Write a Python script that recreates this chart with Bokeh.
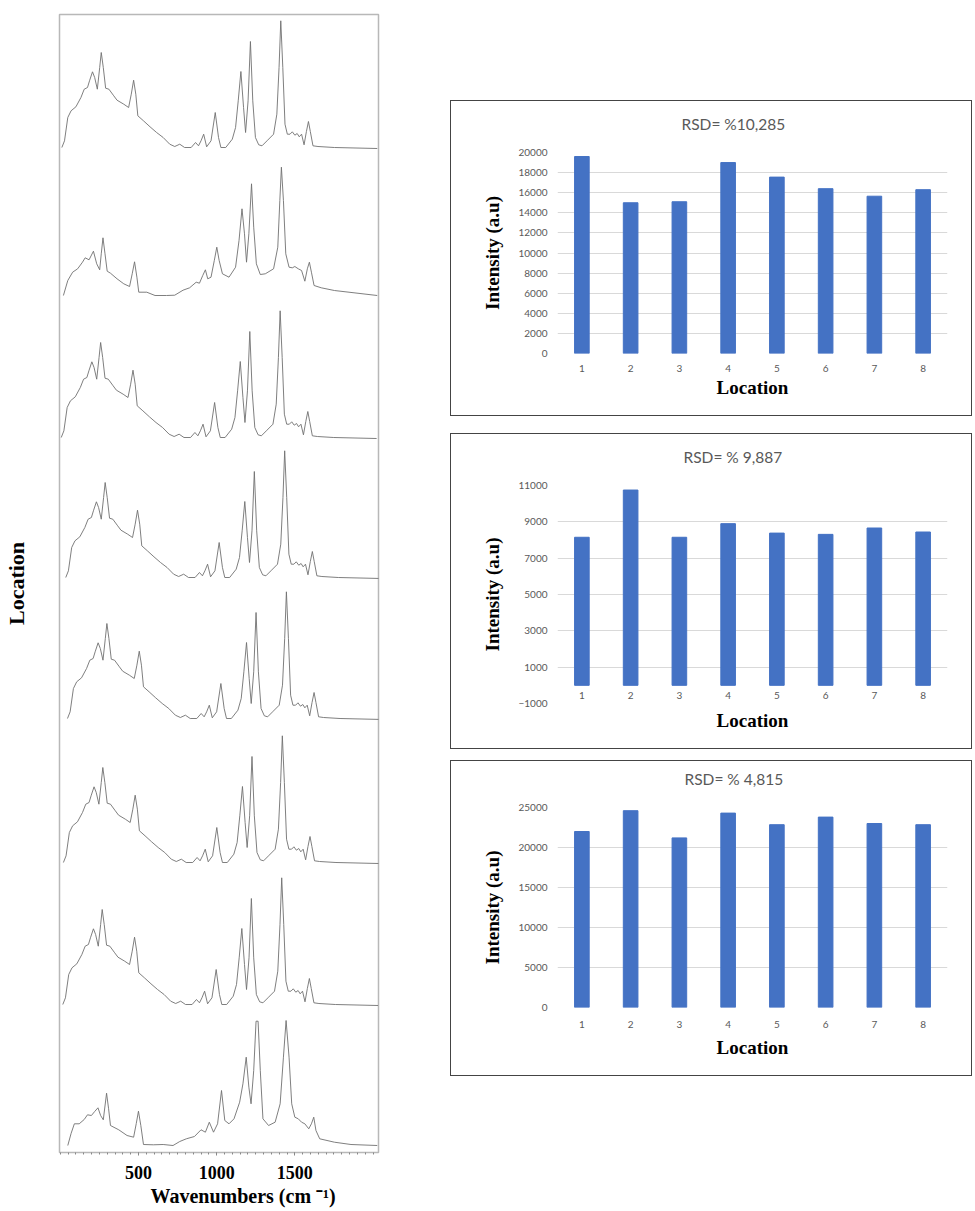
from bokeh.plotting import figure
from bokeh.layouts import row, column
from bokeh.models import Spacer, FixedTicker, FactorRange, Range1d, Title
from bokeh.embed import file_html
from bokeh.resources import INLINE

# ---------------- data: Raman spectra (wavenumber, intensity) ----------------
SHAPE_A_WN = [10, 27, 48, 69, 100, 132, 153, 174, 187, 206, 220, 237, 252, 262, 275, 290, 311, 342, 363, 406,
              437, 454, 469, 483, 496, 532, 574, 616, 658, 700, 732, 764, 795, 837, 865, 884, 900, 917, 936, 964,
              991, 1012, 1027, 1058, 1100, 1121, 1138, 1155, 1172, 1185, 1201, 1216, 1231, 1248, 1269, 1290, 1322,
              1364, 1385, 1399, 1410, 1423, 1437, 1452, 1469, 1484, 1500, 1515, 1528, 1543, 1559, 1574, 1587, 1599,
              1616, 1648, 1753, 2027]
SHAPE_A_I = [0, 6.7, 30, 36.7, 40.7, 50, 58.3, 60, 66.7, 75.7, 70, 58.3, 80, 95, 80, 59.3, 58.3, 51.7, 47.3, 43.3,
             40, 53.3, 67.3, 53.3, 31.7, 26.7, 20.7, 15, 10, 3.3, 1, 3.3, 0, 0, 5, 1.7, 6.7, 13.3, 0.7, 6.7,
             35, 10, 0, 0, 8.3, 20, 46.7, 76, 40, 15, 46.7, 106, 46.7, 10, 2.7, 1.7, 6.7,
             13.3, 33.3, 80, 126.7, 80, 23.3, 13.3, 13.3, 15.7, 12.3, 14, 10.7, 13.3, 2.7, 16, 26, 16,
             1.7, 1, 0, -1]

SHAPE_B_WN = [20, 48, 79, 111, 142, 159, 184, 212, 233, 252, 262, 273, 286, 300, 321, 363, 406, 443, 460, 475,
              490, 502, 553, 606, 679, 732, 785, 827, 869, 890, 911, 928, 943, 964, 985, 1001, 1016, 1037, 1079,
              1121, 1143, 1162, 1178, 1191, 1206, 1223, 1237, 1254, 1279, 1311, 1364, 1391, 1404, 1414, 1427, 1442,
              1463, 1484, 1500, 1522, 1543, 1564, 1580, 1593, 1606, 1623, 1669, 1753, 2027]
SHAPE_B_I = [0, 15, 23.3, 26.7, 33.3, 37.7, 35.7, 44.3, 31.7, 25.7, 41.7, 57.7, 41.7, 24.3, 22.3, 16.7, 11.7, 9, 21.7, 33.7,
             18.3, 3.3, 3.3, 0, 0, 0.3, 5.3, 7.7, 13.3, 12.3, 20, 25.7, 16.7, 18.3, 35, 48.3, 35, 21.7, 18.3,
             28.3, 55, 86.7, 61.7, 33.3, 61.7, 111.7, 68.3, 31.7, 21, 21.7, 26.7, 48.3, 95, 128.3, 95, 41.7,
             28.3, 27.7, 29, 26.7, 25, 14.3, 26.7, 33.3, 23.3, 10, 7.7, 5, 0]

SHAPE_C_WN = [48, 69, 90, 121, 153, 174, 199, 220, 241, 258, 275, 296, 309, 321, 374, 427, 469, 486, 500, 515,
              532, 595, 658, 721, 764, 806, 858, 900, 928, 953, 980, 1006, 1031, 1052, 1079, 1111, 1147, 1168, 1189,
              1206, 1220, 1237, 1252, 1265, 1279, 1296, 1332, 1374, 1406, 1427, 1444, 1463, 1480, 1500, 1522, 1543,
              1564, 1589, 1606, 1621, 1635, 1659, 1753, 1859, 2027]
SHAPE_C_I = [0, 12, 21.7, 21.7, 26, 30.7, 30, 34, 37.7, 30, 25.7, 52.3, 36.7, 20, 15.7, 10, 8.3, 22, 34.3, 20,
             1, 0.7, 1, 0, 4, 6.7, 9, 15.7, 13.3, 23.3, 13.3, 21.7, 55, 25, 21.7, 26.7, 43.3, 61.7, 88.3,
             58.3, 41.7, 75, 124.3, 124.3, 75, 26.7, 20, 23.3, 41.7, 88.3, 125, 88.3, 41.7, 28.3, 26.7, 23.3,
             21.7, 16.7, 21.7, 28.3, 15, 6.7, 3.3, 1, 0]

SHAPES = {"A": (SHAPE_A_WN, SHAPE_A_I), "B": (SHAPE_B_WN, SHAPE_B_I), "C": (SHAPE_C_WN, SHAPE_C_I)}
LOC_SHAPE = ["A", "B", "A", "A", "A", "A", "A", "C"]          # location 1 (top) .. 8 (bottom)
LOC_SHIFT = [0, 0, -4, 25, 36, 10, 6, 0]                      # wavenumber shift of each spectrum
LOC_BASE = [998, 850, 708, 568, 427, 283, 141, 0]             # stacking offset of each spectrum

WN_TICKS = [500, 1000, 1500]
WN_MIN, WN_MAX = -5, 2035
Y_MIN, Y_MAX = -7, 1131

# ---------------- data: bar charts ----------------
CATS = ["1", "2", "3", "4", "5", "6", "7", "8"]
INT_1 = [19600, 15000, 15100, 19000, 17550, 16400, 15650, 16300]
INT_2 = [8150, 10750, 8150, 8900, 8380, 8310, 8660, 8440]
INT_3 = [22000, 24600, 21200, 24300, 22850, 23800, 23000, 22850]
TITLES = ["RSD= %10,285", "RSD= % 9,887", "RSD= % 4,815"]
YTICKS_1 = [0, 2000, 4000, 6000, 8000, 10000, 12000, 14000, 16000, 18000, 20000]
YTICKS_2 = [-1000, 1000, 3000, 5000, 7000, 9000, 11000]
YTICKS_3 = [0, 5000, 10000, 15000, 20000, 25000]

SERIF = "Liberation Serif"
SANS = "Lato"
GRAY_TXT = "#595959"
BAR = "#4472C4"

# ---------------- left: stacked spectra ----------------
p = figure(width=450, height=1210, x_range=Range1d(WN_MIN, WN_MAX), y_range=Range1d(Y_MIN, Y_MAX),
           output_backend="svg", toolbar_location=None,
           min_border_left=55, min_border_right=72, min_border_top=14, min_border_bottom=58)
p.grid.visible = False
p.outline_line_color = "#b8b8b8"
p.outline_line_width = 1.5
p.background_fill_color = "white"
p.border_fill_color = "white"

for i in range(8):
    wn, inten = SHAPES[LOC_SHAPE[i]]
    xs = [w + LOC_SHIFT[i] for w in wn]
    ys = [v + LOC_BASE[i] for v in inten]
    p.line(xs, ys, line_color="#707070", line_width=0.9)

minor = [m for m in range(0, 2050, 50)]
p.xaxis.ticker = FixedTicker(ticks=WN_TICKS, minor_ticks=minor)
p.xaxis.axis_line_color = "#b8b8b8"
p.xaxis.major_tick_line_color = "#888888"
p.xaxis.minor_tick_line_color = "#888888"
p.xaxis.major_tick_out = 3
p.xaxis.major_tick_in = 0
p.xaxis.minor_tick_out = 2
p.xaxis.minor_tick_in = 0
p.xaxis.major_label_standoff = 10
p.xaxis.major_label_text_font = SERIF
p.xaxis.major_label_text_font_style = "bold"
p.xaxis.major_label_text_font_size = "18px"
p.xaxis.major_label_text_color = "black"
p.add_layout(Title(text="Wavenumbers (cm \u207b\u00b9)", align="left", offset=91, standoff=2,
                   text_font=SERIF, text_font_style="bold", text_font_size="20px", text_color="black"),
             "below")

p.yaxis.ticker = FixedTicker(ticks=[])
p.yaxis.axis_line_color = None
p.yaxis.major_tick_out = 0
p.yaxis.minor_tick_out = 0
p.yaxis.major_label_text_font_size = "0px"
p.yaxis.axis_label = "Location"
p.yaxis.axis_label_standoff = 31
p.yaxis.axis_label_text_font = SERIF
p.yaxis.axis_label_text_font_style = "bold"
p.yaxis.axis_label_text_font_size = "22px"
p.yaxis.axis_label_text_color = "black"


# ---------------- right: bar charts ----------------
def bar_chart(title, values, y0, y1, ticks, bl, br, bt, bb, xstand, lstand, toff, tstand):
    f = figure(width=522, height=316, x_range=FactorRange(*CATS), y_range=Range1d(y0, y1),
               output_backend="svg", toolbar_location=None,
               min_border_left=bl, min_border_right=br, min_border_top=bt, min_border_bottom=bb,
               styles={"border": "1px solid #444444"})
    f.vbar(x=CATS, top=values, width=0.3, fill_color=BAR, line_color=BAR)
    f.outline_line_color = None
    f.xgrid.visible = False
    f.ygrid.ticker = FixedTicker(ticks=ticks)
    f.ygrid.grid_line_color = "#d9d9d9"
    f.ygrid.grid_line_width = 1
    f.yaxis.ticker = FixedTicker(ticks=ticks)
    for ax in (f.xaxis, f.yaxis):
        ax.axis_line_color = None
        ax.major_tick_line_color = None
        ax.minor_tick_line_color = None
        ax.major_tick_out = 0
        ax.major_tick_in = 0
        ax.major_label_text_font = SANS
        ax.major_label_text_font_size = "10px"
        ax.major_label_text_color = GRAY_TXT
        ax.axis_label_text_font = SERIF
        ax.axis_label_text_font_style = "bold"
        ax.axis_label_text_font_size = "19px"
        ax.axis_label_text_color = "black"
    f.yaxis.major_label_standoff = 10
    f.yaxis.axis_label = "Intensity (a.u)"
    f.yaxis.axis_label_standoff = 12
    f.xaxis.major_label_standoff = xstand
    f.xaxis.axis_label = "Location"
    f.xaxis.axis_label_standoff = lstand
    # trailing empty line lifts the title further above the plot area
    f.title.text = title + "\n "
    f.title.align = "left"
    f.title.offset = toff
    f.title.standoff = tstand
    f.title.text_font = SANS
    f.title.text_font_style = "normal"
    f.title.text_font_size = "15.5px"
    f.title.text_color = GRAY_TXT
    return f


b1 = bar_chart(TITLES[0], INT_1, 0, 20000, YTICKS_1, 101, 26, 51, 64, 11, 2, 124, 4)
b2 = bar_chart(TITLES[1], INT_2, -1000, 11000, YTICKS_2, 106, 21, 51, 47, -12, 8, 126, 4)
b3 = bar_chart(TITLES[2], INT_3, 0, 25000, YTICKS_3, 106, 24, 46, 70, 13, 6, 127, 4)

right = column(Spacer(height=100, width=522), b1, Spacer(height=17, width=522), b2,
               Spacer(height=11, width=522), b3, spacing=0)
layout = row(p, right, spacing=0)

open("out.html", "w").write(file_html(layout, INLINE))
